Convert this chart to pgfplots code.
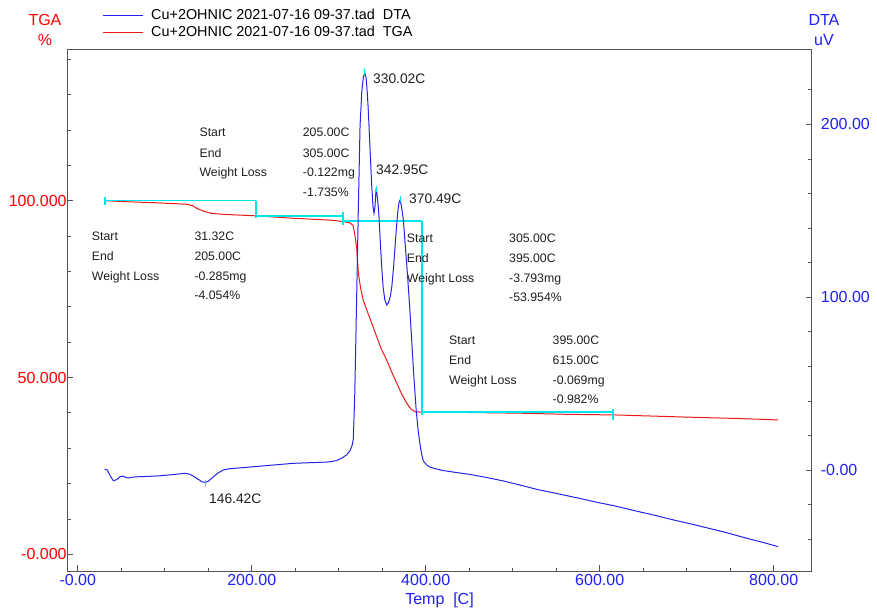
\documentclass[border=0pt]{standalone}
\usepackage{fontspec}
\setmainfont{Liberation Sans}
\usepackage{pgfplots}
\pgfplotsset{compat=1.18}
\usepackage{pgfplotstable}

\definecolor{dtablue}{RGB}{35,35,235}
\definecolor{lblblue}{RGB}{30,30,255}
\definecolor{tgared}{RGB}{235,25,25}
\definecolor{lblred}{RGB}{255,0,0}
\definecolor{anncyan}{RGB}{0,230,240}
\definecolor{framegray}{RGB}{85,85,85}
\definecolor{txt}{RGB}{30,30,30}

\pgfplotsset{
  mylegend/.style={
    legend style={anchor=west, draw=none, fill=none,
      font=\fontsize{14.4}{16}\selectfont, inner sep=0pt, column sep=6pt,
      nodes={inner sep=1.5pt}},
    legend cell align=left,
    legend image code/.code={\draw[##1] (0pt,0pt) -- (40pt,0pt);},
  },
  cy/.style={draw=anncyan, line width=1.5pt, forget plot},
}

\pgfplotstableread{
T DTA
31 0.5
34 0
38 -4
41 -6.2
45 -5.5
49 -3.8
52 -3.5
55 -4.2
58 -4.6
62 -4.2
68 -3.9
80 -3.7
95 -3.3
110 -2.6
123 -1.9
128 -2.3
133 -3.5
138 -5.2
143 -6.8
146.4 -7.2
150 -6.5
153 -5.2
156 -3.9
161 -1.8
167 0
175 0.8
190 1.4
220 2.7
248 3.9
270 4.3
286 4.6
293 5.0
298 5.6
304 7.0
309 8.8
313 11.2
315.5 14.5
316.8 18
318.5 45
320.7 102
322.5 150
324.5 199
326.5 219
328.3 227.5
330 229.8
331.5 227
333 217
334 208
336 186
338 164
339.5 152
340.6 148.6
341.6 152
342.9 162
343.7 161
345 155
346.3 146.6
347.8 132
349.4 117.7
351 106
353 98.5
355.2 95.5
357.3 97
359.5 101
361 106
363 117
364.7 129
366.3 140
367.8 149
369.2 154.5
370.5 156.3
372 153
374.3 144.7
376.5 130
378.9 114
381.5 95
384 74
386.5 53
389 35
391.5 22
393.4 15
395.4 9.0
397.3 5.2
401 3.0
405 1.7
410 0.9
420 -0.3
435 -1.4
451.7 -2.6
470 -4.3
490 -6.4
510 -8.9
529.5 -11.4
550 -13.5
575 -16.2
600 -19.0
615 -20.5
640 -23.5
660 -25.8
685 -28.9
710 -31.8
743 -35.9
770 -39.6
790 -42.2
805 -44.3
}\dtadata

\pgfplotstableread{
T TGA
31.5 100.0
56 99.7
90 99.4
125 99.0
132 98.6
137 97.8
145 97.0
154 96.4
170 96.1
205.7 95.7
250 95.0
290 94.5
305 94.1
313 93.7
316.5 93.0
318.5 90.5
320.7 86.5
322.6 79.5
325 75.5
328 72
332.2 69.1
337 66
343.7 61.5
349 58
355.2 54.9
361 51.5
366.7 48.4
372 45.5
378.2 42.7
383 41.1
387.7 40.3
395.4 40.2
450 40.1
510 39.9
560 39.6
619 39.4
700 38.8
760 38.4
805 38.0
}\tgadata

\begin{document}
\begin{tikzpicture}
\begin{axis}[
  name=tga,
  scale only axis, width=744.4pt, height=522pt,
  xmin=-12, xmax=843.7, ymin=-4.8, ymax=142.8,
  clip=false,
  axis line style={framegray, line width=1pt},
  tick style={framegray, line width=0.8pt},
  tick align=inside,
  major tick length=6pt, minor tick length=3.5pt,
  xtick pos=bottom, ytick pos=left,
  xtick={0,200,400,600,800},
  xticklabels={-0.00,200.00,400.00,600.00,800.00},
  minor xtick={50,100,150,250,300,350,450,500,550,650,700,750},
  ytick={0,50,100},
  yticklabels={-0.000,50.000,100.000},
  minor ytick={10,20,30,40,60,70,80,90,110,120,130,140},
  xticklabel style={font=\fontsize{16}{19}\selectfont, text=lblblue, inner sep=3pt},
  yticklabel style={font=\fontsize{16}{19}\selectfont, text=lblred, inner sep=0.5pt},
  mylegend,
  legend style={at={(axis description cs:0.0473,1.0326)}},
]
\addplot[tgared, line width=1pt] table[x=T, y=TGA] {\tgadata};
\addlegendentry{Cu+2OHNIC 2021-07-16 09-37.tad\ \ TGA}
% cyan step annotations
\addplot[cy] coordinates {(31.32,101) (31.32,98.8)};
\addplot[cy] coordinates {(31.32,100) (205,100)};
\addplot[cy] coordinates {(205,100) (205,95.0)};
\addplot[cy] coordinates {(205,95.7) (305,95.7)};
\addplot[cy] coordinates {(305,96.9) (305,93.1)};
\addplot[cy] coordinates {(305,94.2) (395.2,94.2)};
\addplot[cy, line width=2pt] coordinates {(395.2,94.2) (395.2,70) (395.2,39.5)};
\addplot[cy] coordinates {(395,40.2) (615,40.2)};
\addplot[cy] coordinates {(615,41) (615,38.1)};

% titles
\node[text=lblred, font=\fontsize{16}{19}\selectfont] at (axis description cs:-0.030,1.056) {TGA};
\node[text=lblred, font=\fontsize{16}{19}\selectfont] at (axis description cs:-0.030,1.018) {\%};
\node[text=lblblue, font=\fontsize{16}{19}\selectfont] at (axis description cs:1.0165,1.056) {DTA};
\node[text=lblblue, font=\fontsize{16}{19}\selectfont] at (axis description cs:1.0165,1.018) {uV};
\node[text=lblblue, font=\fontsize{16}{19}\selectfont] at (axis description cs:0.5,-0.055) {Temp\ \ [C]};

% annotation blocks
\begin{scope}[every node/.style={anchor=west, text=txt, font=\fontsize{12.3}{14}\selectfont, inner sep=0pt}]
\node at (axis cs:139.8,119.3) {Start};
\node at (axis cs:139.8,113.4) {End};
\node at (axis cs:139.8,107.7) {Weight Loss};
\node at (axis cs:258.6,119.3) {205.00C};
\node at (axis cs:258.6,113.4) {305.00C};
\node at (axis cs:258.6,107.7) {-0.122mg};
\node at (axis cs:258.6,102.5) {-1.735\%};

\node at (axis cs:16.1,90.0) {Start};
\node at (axis cs:16.1,84.2) {End};
\node at (axis cs:16.1,78.4) {Weight Loss};
\node at (axis cs:134,90.0) {31.32C};
\node at (axis cs:134,84.2) {205.00C};
\node at (axis cs:134,78.4) {-0.285mg};
\node at (axis cs:134,73.3) {-4.054\%};

\node at (axis cs:378.2,89.5) {Start};
\node at (axis cs:378.2,83.8) {End};
\node at (axis cs:378.2,77.8) {Weight Loss};
\node at (axis cs:495.7,89.5) {305.00C};
\node at (axis cs:495.7,83.8) {395.00C};
\node at (axis cs:495.7,77.8) {-3.793mg};
\node at (axis cs:495.7,72.7) {-53.954\%};

\node at (axis cs:426.8,60.6) {Start};
\node at (axis cs:426.8,55.0) {End};
\node at (axis cs:426.8,49.0) {Weight Loss};
\node at (axis cs:545.7,60.6) {395.00C};
\node at (axis cs:545.7,55.0) {615.00C};
\node at (axis cs:545.7,49.0) {-0.069mg};
\node at (axis cs:545.7,43.9) {-0.982\%};
\end{scope}
\begin{scope}[every node/.style={anchor=west, text=txt, font=\fontsize{13.8}{16}\selectfont, inner sep=0pt}]
\node at (axis cs:339.4,134.4) {330.02C};
\node at (axis cs:342.9,108.7) {342.95C};
\node at (axis cs:380.8,100.5) {370.49C};
\node at (axis cs:150.9,15.6) {146.42C};
\end{scope}
\end{axis}

\begin{axis}[
  scale only axis, width=744.4pt, height=522pt,
  xmin=-12, xmax=843.7, ymin=-58.6, ymax=243.5,
  clip=false,
  axis x line=none, axis y line*=right,
  axis line style={framegray, line width=1pt},
  tick style={framegray, line width=0.8pt},
  tick align=inside,
  major tick length=6pt, minor tick length=3.5pt,
  ytick={0,100,200},
  yticklabels={-0.00,100.00,200.00},
  minor ytick={-40,-20,20,40,60,80,120,140,160,180,220},
  yticklabel style={font=\fontsize{16}{19}\selectfont, text=lblblue, anchor=west, inner sep=0pt, xshift=9pt},
  mylegend,
  legend style={at={(axis description cs:0.0473,1.0651)}},
]
\addplot[dtablue, line width=1pt] table[x=T, y=DTA] {\dtadata};
\addlegendentry{Cu+2OHNIC 2021-07-16 09-37.tad\ \ DTA}
\addplot[anncyan, only marks, mark=|, mark size=3pt, mark options={line width=1pt}, forget plot] coordinates {(330.02,230.5) (342.95,162.5) (370.49,156.8) (146.42,-7.5)};
\end{axis}
\pgfresetboundingbox
\path[use as bounding box] (tga.south west) ++(-67.3pt,-41.7pt) rectangle ++(877pt,613pt);
\end{tikzpicture}
\end{document}
